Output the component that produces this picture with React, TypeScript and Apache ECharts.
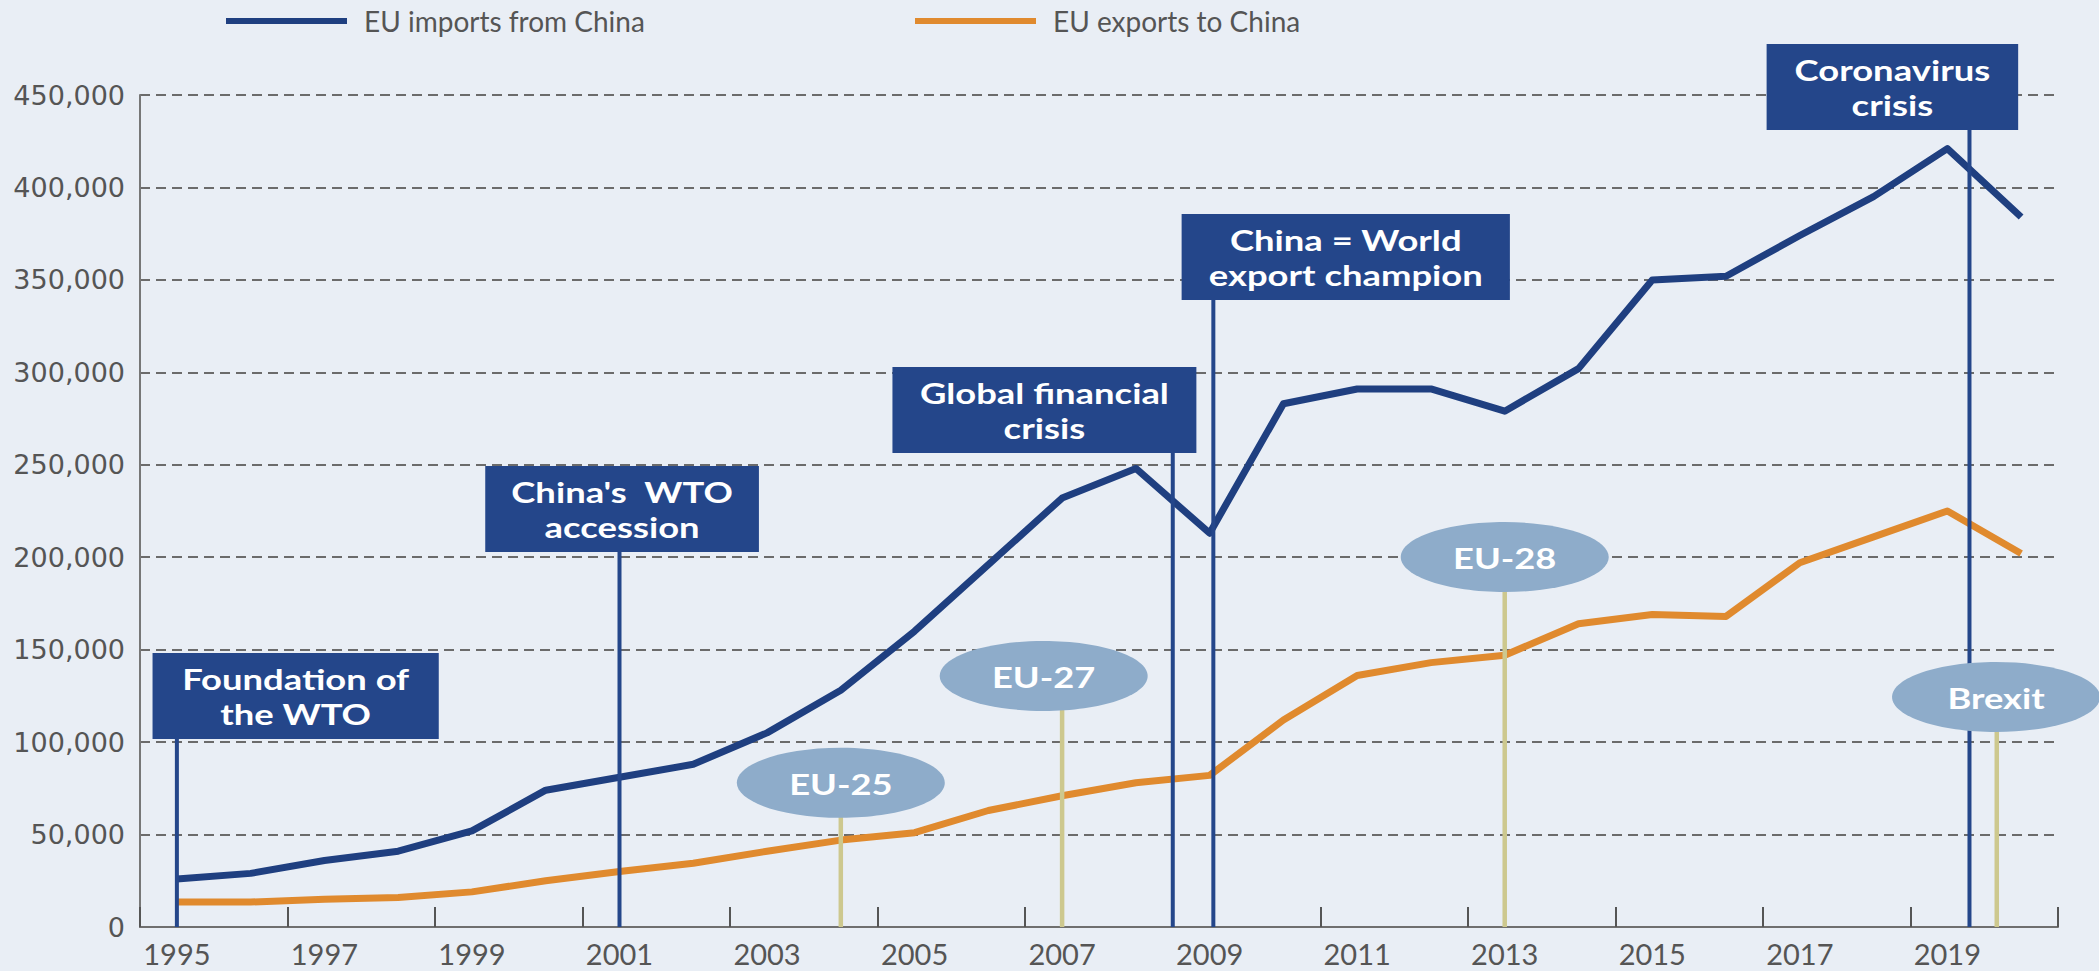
import React, { useEffect, useRef } from "react";
import * as echarts from "echarts";

const years = [
  "1995", "1996", "1997", "1998", "1999", "2000", "2001", "2002", "2003", "2004",
  "2005", "2006", "2007", "2008", "2009", "2010", "2011", "2012", "2013", "2014",
  "2015", "2016", "2017", "2018", "2019", "2020",
];

const importsFromChina = [
  26000, 29000, 36000, 41000, 52000, 74000, 81000, 88000, 105000, 128000,
  160000, 196000, 232000, 248000, 213000, 283000, 291000, 291000, 279000, 302000,
  350000, 352000, 374000, 395000, 421000, 384000,
];

const exportsToChina = [
  13500, 13500, 15000, 16000, 19000, 25000, 30000, 34500, 41000, 47000,
  51000, 63000, 71000, 78000, 82000, 112000, 136000, 143000, 147000, 164000,
  169000, 168000, 197000, 211000, 225000, 202000,
];

const yTicks = { min: 0, max: 450000, interval: 50000 };

const eventLabels = [
  "Foundation of\nthe WTO",
  "China's  WTO\naccession",
  "Global financial\ncrisis",
  "China = World\nexport champion",
  "Coronavirus\ncrisis",
];
const eventYears = [1995, 2001, 2008.5, 2009.05, 2019.3];

const enlargementLabels = ["EU-25", "EU-27", "EU-28", "Brexit"];
const enlargementYears = [2004, 2007, 2013, 2019.67];

// layout of annotation boxes (year units / value units)
const eventBoxLayout = [
  { x0: 1994.67, x1: 1998.55, top: 148200, bottom: 101700 },
  { x0: 1999.18, x1: 2002.89, top: 249300, bottom: 202800 },
  { x0: 2004.7, x1: 2008.82, top: 302900, bottom: 256400 },
  { x0: 2008.62, x1: 2013.07, top: 385600, bottom: 339100 },
  { x0: 2016.55, x1: 2019.96, top: 477600, bottom: 431100 },
];
const ellipseLayout = [
  { cx: 2004.0, cy: 78000 },
  { cx: 2006.75, cy: 135800 },
  { cx: 2013.0, cy: 200100 },
  { cx: 2019.66, cy: 124400 },
];

const BLUE = "#1f3f80";
const BOX = "#24468a";
const ORANGE = "#e08a2e";
const ELLIPSE = "#8eacca";
const STEM = "#cdc88e";
const BG = "#e9eef5";

export default function App() {
  const ref = useRef<HTMLDivElement>(null);

  useEffect(() => {
    if (!ref.current) return;
    const chart = echarts.init(ref.current, null, { renderer: "svg" });

    const legendText = { fontFamily: "Lato", fontSize: 28, color: "#555", padding: [0, 0, 0, 12] };

    const option: any = {
      animation: false,
      backgroundColor: BG,
      grid: { left: 140, right: 41, top: 95, bottom: 44, containLabel: false },
      legend: [
        {
          left: 221,
          top: 2,
          data: ["EU imports from China"],
          icon: "rect",
          itemWidth: 121,
          itemHeight: 6,
          textStyle: legendText,
        },
        {
          left: 910,
          top: 2,
          data: ["EU exports to China"],
          icon: "rect",
          itemWidth: 121,
          itemHeight: 6,
          textStyle: legendText,
        },
      ],
      xAxis: [
        {
          type: "category",
          data: years,
          boundaryGap: true,
          axisLine: { show: true, lineStyle: { color: "#6f6f6f", width: 2 } },
          axisTick: { show: true, inside: true, length: 20, lineStyle: { color: "#555", width: 2 } },
          axisLabel: {
            interval: 1,
            margin: 12,
            fontFamily: "Lato",
            fontSize: 29,
            color: "#555",
          },
          splitLine: { show: false },
        },
        {
          type: "value",
          min: 1994.5,
          max: 2020.5,
          show: false,
          splitLine: { show: false },
        },
      ],
      yAxis: {
        type: "value",
        min: yTicks.min,
        max: yTicks.max,
        interval: yTicks.interval,
        axisLine: { show: true, lineStyle: { color: "#777", width: 2 } },
        axisTick: { show: false },
        axisLabel: {
          margin: 15,
          fontFamily: "DejaVu Sans",
          fontSize: 27,
          color: "#555",
          formatter: (v: number) => v.toLocaleString("en-US"),
        },
        splitLine: { show: true, lineStyle: { color: "#6b6b6b", width: 2, type: [10, 6] } },
      },
      series: [
        {
          name: "EU imports from China",
          type: "line",
          data: importsFromChina,
          symbol: "none",
          color: BLUE,
          lineStyle: { color: BLUE, width: 7, join: "round" },
          z: 3,
        },
        {
          name: "EU exports to China",
          type: "line",
          data: exportsToChina,
          symbol: "none",
          color: ORANGE,
          lineStyle: { color: ORANGE, width: 7, join: "round" },
          z: 3,
        },
        {
          type: "custom",
          xAxisIndex: 1,
          yAxisIndex: 0,
          clip: false,
          z: 4,
          data: eventYears.map((y) => [y, 0]),
          encode: { x: 0, y: 1 },
          renderItem: (params: any, api: any) => {
            const i = params.dataIndex;
            const L = eventBoxLayout[i];
            const p0 = api.coord([L.x0, L.top]);
            const p1 = api.coord([L.x1, L.bottom]);
            const base = api.coord([eventYears[i], 0]);
            return {
              type: "group",
              children: [
                {
                  type: "line",
                  shape: { x1: base[0], y1: p1[1], x2: base[0], y2: base[1] },
                  style: { stroke: BOX, lineWidth: 4 },
                },
                {
                  type: "rect",
                  shape: { x: p0[0], y: p0[1], width: p1[0] - p0[0], height: p1[1] - p0[1] },
                  style: { fill: BOX },
                },
                {
                  type: "text",
                  x: (p0[0] + p1[0]) / 2,
                  y: (p0[1] + p1[1]) / 2 + 1,
                  scaleX: 1.3,
                  style: {
                    text: eventLabels[i],
                    fill: "#ffffff",
                    fontFamily: "Lato",
                    fontWeight: "bold",
                    fontSize: 28,
                    lineHeight: 35,
                    align: "center",
                    verticalAlign: "middle",
                  },
                },
              ],
            };
          },
        },
        {
          type: "custom",
          xAxisIndex: 1,
          yAxisIndex: 0,
          clip: false,
          z: 5,
          data: enlargementYears.map((y) => [y, 0]),
          encode: { x: 0, y: 1 },
          renderItem: (params: any, api: any) => {
            const i = params.dataIndex;
            const E = ellipseLayout[i];
            const c = api.coord([E.cx, E.cy]);
            const base = api.coord([enlargementYears[i], 0]);
            const rx = 104;
            const ry = 35;
            return {
              type: "group",
              children: [
                {
                  type: "line",
                  shape: { x1: base[0], y1: c[1] + ry - 2, x2: base[0], y2: base[1] },
                  style: { stroke: STEM, lineWidth: 4.5 },
                },
                {
                  type: "ellipse",
                  shape: { cx: c[0], cy: c[1], rx, ry },
                  style: { fill: ELLIPSE },
                },
                {
                  type: "text",
                  x: c[0],
                  y: c[1] + 1,
                  scaleX: 1.25,
                  style: {
                    text: enlargementLabels[i],
                    fill: "#ffffff",
                    fontFamily: "Lato",
                    fontWeight: "bold",
                    fontSize: 29,
                    align: "center",
                    verticalAlign: "middle",
                  },
                },
              ],
            };
          },
        },
      ],
    };

    chart.setOption(option);
    return () => chart.dispose();
  }, []);

  return (
    <div
      ref={ref}
      style={{
        position: "fixed",
        left: 0,
        top: 0,
        width: 2099,
        height: 971,
        background: BG,
      }}
    />
  );
}
